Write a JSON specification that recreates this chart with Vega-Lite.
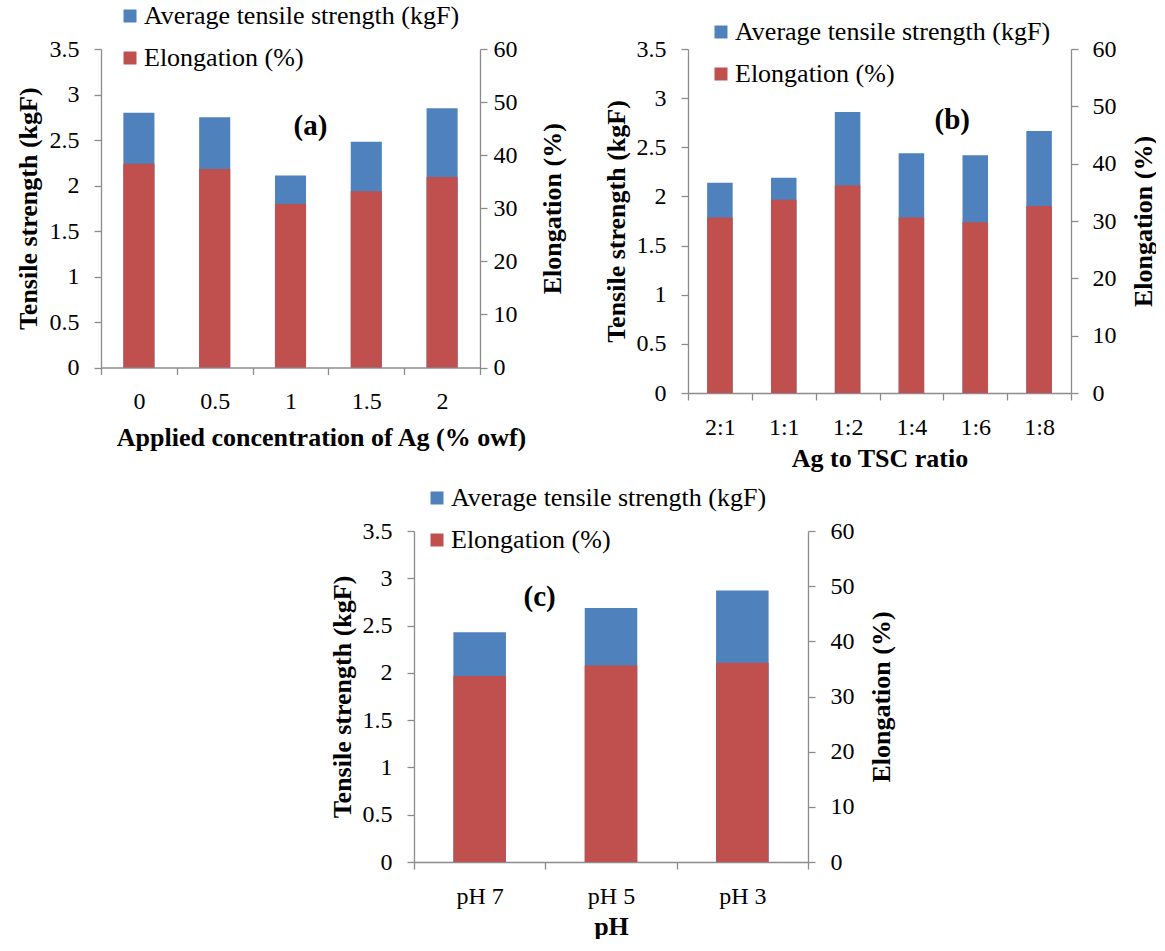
{
  "$schema": "https://vega.github.io/schema/vega-lite/v6.json",
  "background": "white",
  "padding": {"left": 15, "top": 3, "right": 0, "bottom": 0},
  "datasets": {
    "a": [
      {"cat": "0", "ts": 2.80, "el": 38.4},
      {"cat": "0.5", "ts": 2.75, "el": 37.4},
      {"cat": "1", "ts": 2.11, "el": 30.8},
      {"cat": "1.5", "ts": 2.48, "el": 33.2},
      {"cat": "2", "ts": 2.85, "el": 35.9}
    ],
    "b": [
      {"cat": "2:1", "ts": 2.14, "el": 30.6},
      {"cat": "1:1", "ts": 2.19, "el": 33.7},
      {"cat": "1:2", "ts": 2.86, "el": 36.2},
      {"cat": "1:4", "ts": 2.44, "el": 30.6},
      {"cat": "1:6", "ts": 2.42, "el": 29.8},
      {"cat": "1:8", "ts": 2.665, "el": 32.6}
    ],
    "c": [
      {"cat": "pH 7", "ts": 2.43, "el": 33.7},
      {"cat": "pH 5", "ts": 2.685, "el": 35.6},
      {"cat": "pH 3", "ts": 2.87, "el": 36.1}
    ],
    "spacer": [{"t": ""}]
  },
  "vconcat": [
    {
      "hconcat": [
        {
          "width": 379, "height": 318.5,
          "data": {"name": "a"},
          "layer": [
            {"layer": [
              {"mark": {"type": "bar", "width": {"band": 0.41}},
               "encoding": {
                 "x": {"field": "cat", "type": "nominal", "sort": null, "title": "Applied concentration of Ag (% owf)", "scale": {"paddingInner": 0, "paddingOuter": 0}, "axis": {"labelAngle": 0, "tickBand": "extent", "titlePadding": 11, "titleX": 220}},
                 "y": {"field": "ts", "type": "quantitative", "title": "Tensile strength (kgF)", "scale": {"domain": [0, 3.5]}, "axis": {"orient": "left", "values": [0, 0.5, 1, 1.5, 2, 2.5, 3, 3.5], "format": "~g", "labelPadding": 15, "titlePadding": 8}},
                 "color": {"datum": "Average tensile strength (kgF)", "scale": {"domain": ["Average tensile strength (kgF)", "Elongation (%)"], "range": ["#4F81BD", "#C0504D"]}, "legend": {"title": null, "legendX": 16, "legendY": -46}}
               }},
              {"data": {"values": [{"label": "(a)", "cat": "1", "pos": 2.65}]},
               "mark": {"type": "text", "dx": 20, "font": "Liberation Serif", "fontSize": 29, "fontWeight": "bold", "color": "#000"},
               "encoding": {
                 "x": {"field": "cat", "type": "nominal", "sort": null, "title": "Applied concentration of Ag (% owf)"},
                 "y": {"field": "pos", "type": "quantitative", "title": "Tensile strength (kgF)"},
                 "text": {"field": "label"}
               }}
            ]},
            {"mark": {"type": "bar", "width": {"band": 0.41}},
             "encoding": {
               "x": {"field": "cat", "type": "nominal", "sort": null, "title": "Applied concentration of Ag (% owf)"},
               "y": {"field": "el", "type": "quantitative", "title": "Elongation (%)", "scale": {"domain": [0, 60]}, "axis": {"orient": "right", "values": [0, 10, 20, 30, 40, 50, 60], "labelPadding": 6, "titlePadding": 22, "titleAngle": 270, "titleBaseline": "top"}},
               "color": {"datum": "Elongation (%)"}
             }}
          ],
          "resolve": {"scale": {"y": "independent"}}
        },
        {
          "width": 383, "height": 344,
          "data": {"name": "b"},
          "layer": [
            {"layer": [
              {"mark": {"type": "bar", "width": {"band": 0.4}},
               "encoding": {
                 "x": {"field": "cat", "type": "nominal", "sort": null, "title": "Ag to TSC ratio", "scale": {"paddingInner": 0, "paddingOuter": 0}, "axis": {"labelAngle": 0, "tickBand": "extent", "titlePadding": 6}},
                 "y": {"field": "ts", "type": "quantitative", "title": "Tensile strength (kgF)", "scale": {"domain": [0, 3.5]}, "axis": {"orient": "left", "values": [0, 0.5, 1, 1.5, 2, 2.5, 3, 3.5], "format": "~g", "labelPadding": 15, "titlePadding": 7}},
                 "color": {"datum": "Average tensile strength (kgF)", "scale": {"domain": ["Average tensile strength (kgF)", "Elongation (%)"], "range": ["#4F81BD", "#C0504D"]}, "legend": {"title": null, "legendX": 20, "legendY": -30}}
               }},
              {"data": {"values": [{"label": "(b)", "cat": "1:6", "pos": 2.775}]},
               "mark": {"type": "text", "dx": -23, "font": "Liberation Serif", "fontSize": 29, "fontWeight": "bold", "color": "#000"},
               "encoding": {
                 "x": {"field": "cat", "type": "nominal", "sort": null, "title": "Ag to TSC ratio"},
                 "y": {"field": "pos", "type": "quantitative", "title": "Tensile strength (kgF)"},
                 "text": {"field": "label"}
               }}
            ]},
            {"mark": {"type": "bar", "width": {"band": 0.4}},
             "encoding": {
               "x": {"field": "cat", "type": "nominal", "sort": null, "title": "Ag to TSC ratio"},
               "y": {"field": "el", "type": "quantitative", "title": "Elongation (%)", "scale": {"domain": [0, 60]}, "axis": {"orient": "right", "values": [0, 10, 20, 30, 40, 50, 60], "labelPadding": 14, "titlePadding": 14, "titleAngle": 270, "titleBaseline": "top"}},
               "color": {"datum": "Elongation (%)"}
             }}
          ],
          "resolve": {"scale": {"y": "independent"}}
        }
      ],
      "spacing": 38,
      "resolve": {"scale": {"color": "independent"}, "legend": {"color": "independent"}}
    },
    {
      "hconcat": [
        {
          "width": 228, "height": 1,
          "data": {"name": "spacer"},
          "mark": {"type": "text"},
          "encoding": {"text": {"field": "t"}}
        },
        {
          "width": 394, "height": 331,
          "data": {"name": "c"},
          "layer": [
            {"layer": [
              {"mark": {"type": "bar", "width": {"band": 0.4}},
               "encoding": {
                 "x": {"field": "cat", "type": "nominal", "sort": null, "title": "pH", "scale": {"paddingInner": 0, "paddingOuter": 0}, "axis": {"labelAngle": 0, "tickBand": "extent", "titlePadding": 5}},
                 "y": {"field": "ts", "type": "quantitative", "title": "Tensile strength (kgF)", "scale": {"domain": [0, 3.5]}, "axis": {"orient": "left", "values": [0, 0.5, 1, 1.5, 2, 2.5, 3, 3.5], "format": "~g", "labelPadding": 15, "titlePadding": 7}},
                 "color": {"datum": "Average tensile strength (kgF)", "scale": {"domain": ["Average tensile strength (kgF)", "Elongation (%)"], "range": ["#4F81BD", "#C0504D"]}, "legend": {"title": null, "legendX": 10, "legendY": -46}}
               }},
              {"data": {"values": [{"label": "(c)", "cat": "pH 7", "pos": 2.80}]},
               "mark": {"type": "text", "dx": 60, "font": "Liberation Serif", "fontSize": 29, "fontWeight": "bold", "color": "#000"},
               "encoding": {
                 "x": {"field": "cat", "type": "nominal", "sort": null, "title": "pH"},
                 "y": {"field": "pos", "type": "quantitative", "title": "Tensile strength (kgF)"},
                 "text": {"field": "label"}
               }}
            ]},
            {"mark": {"type": "bar", "width": {"band": 0.4}},
             "encoding": {
               "x": {"field": "cat", "type": "nominal", "sort": null, "title": "pH"},
               "y": {"field": "el", "type": "quantitative", "title": "Elongation (%)", "scale": {"domain": [0, 60]}, "axis": {"orient": "right", "values": [0, 10, 20, 30, 40, 50, 60], "labelPadding": 15, "titlePadding": 14, "titleAngle": 270, "titleBaseline": "top"}},
               "color": {"datum": "Elongation (%)"}
             }}
          ],
          "resolve": {"scale": {"y": "independent"}}
        }
      ],
      "spacing": 0,
      "resolve": {"scale": {"color": "independent"}, "legend": {"color": "independent"}}
    }
  ],
  "spacing": 14,
  "resolve": {"scale": {"color": "independent"}, "legend": {"color": "independent"}},
  "config": {
    "font": "Liberation Serif",
    "view": {"stroke": null},
    "axis": {
      "grid": false,
      "domainColor": "#8c8c8c",
      "tickColor": "#8c8c8c",
      "domainWidth": 1.3,
      "tickWidth": 1.3,
      "tickSize": 7,
      "labelFont": "Liberation Serif",
      "labelFontSize": 24,
      "labelColor": "#000",
      "titleFont": "Liberation Serif",
      "titleFontSize": 26,
      "titleFontWeight": "bold",
      "titleColor": "#000"
    },
    "axisX": {"labelPadding": 15},
    "legend": {
      "orient": "none",
      "direction": "vertical",
      "symbolType": "square",
      "symbolSize": 169,
      "symbolStrokeWidth": 0,
      "labelFont": "Liberation Serif",
      "labelFontSize": 26,
      "labelColor": "#000",
      "labelLimit": 500,
      "rowPadding": 16,
      "labelOffset": 1,
      "padding": 0
    }
  }
}
